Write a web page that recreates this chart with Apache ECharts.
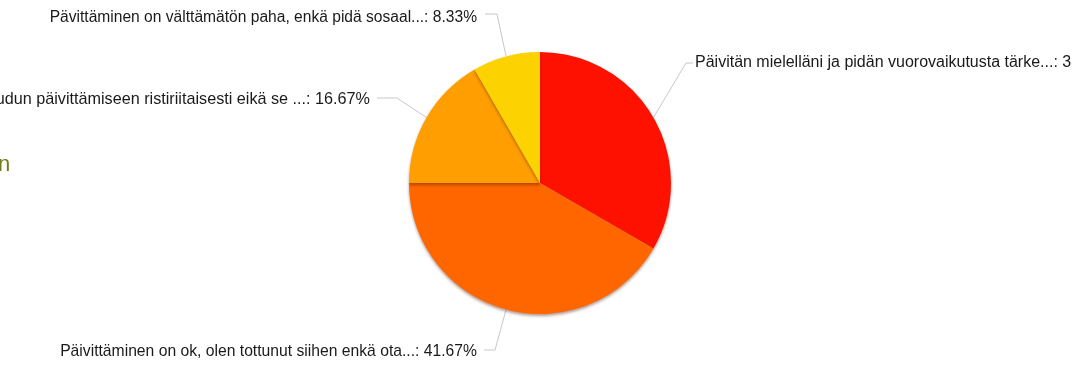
<!DOCTYPE html>
<html>
<head>
<meta charset="utf-8">
<script src="https://cdn.jsdelivr.net/npm/echarts@6/dist/echarts.min.js"></script>
<style>
html,body{margin:0;padding:0;background:#fff;}
#chart{width:1087px;height:367px;}
</style>
</head>
<body>
<div id="chart"></div>
<script>
// ---- data ----
const categories = [
  "Päivitän mielelläni ja pidän vuorovaikutusta tärke...",
  "Päivittäminen on ok, olen tottunut siihen enkä ota...",
  "Suhtaudun päivittämiseen ristiriitaisesti eikä se ...",
  "Pävittäminen on välttämätön paha, enkä pidä sosaal..."
];
const counts = [4, 5, 2, 1];
const sliceColors = ["#ff1100", "#ff6600", "#ff9e00", "#fcd200"];

// ---- label placement (layout only) ----
const labelPlacement = [
  { elbow: [686, 63], end: [693, 63], x: 695, y: 63, align: "left", size: 16 },
  { elbow: [495, 350], end: [484, 350], x: 477, y: 352, align: "right", size: 15.7 },
  { elbow: [397, 98], end: [377, 98], x: 370, y: 100, align: "right", size: 16.2 },
  { elbow: [497, 14], end: [485, 14], x: 477, y: 18, align: "right", size: 15.6 }
];

const chart = echarts.init(document.getElementById("chart"), null, { renderer: "canvas" });
chart.setOption({
  animation: false,
  backgroundColor: "#ffffff",
  graphic: [{
    type: "text",
    left: -2,
    top: 154,
    style: { text: "n", fill: "#6f7f1c", font: "22px 'Liberation Sans', Arial, sans-serif" }
  }, {
    type: "rect",
    z: 100,
    shape: { x: 1072, y: 40, width: 15, height: 50 },
    style: { fill: "#ffffff" }
  }],
  series: [{
    type: "pie",
    center: [540, 183],
    radius: 131,
    startAngle: 90,
    clockwise: true,
    avoidLabelOverlap: false,
    data: categories.map((n, i) => ({ name: n, value: counts[i], itemStyle: { color: sliceColors[i] } })),
    itemStyle: {
      borderWidth: 0,
      shadowBlur: 3,
      shadowOffsetY: 2,
      shadowColor: "rgba(90,30,0,0.45)"
    },
    label: {
      show: true,
      formatter: "{b}: {d}%",
      color: "#1a1a1a",
      fontFamily: "'Liberation Sans', Arial, sans-serif",
      fontSize: 15.6
    },
    labelLine: {
      show: true,
      length: 10,
      length2: 10,
      lineStyle: { color: "#c8c8c8", width: 1 }
    },
    labelLayout: function (params) {
      const p = labelPlacement[params.dataIndex];
      const start = params.labelLinePoints ? params.labelLinePoints[0] : p.elbow;
      return {
        x: p.x,
        y: p.y,
        align: p.align,
        verticalAlign: "middle",
        fontSize: p.size,
        labelLinePoints: [start, p.elbow, p.end]
      };
    },
    emphasis: { disabled: true }
  }]
});
</script>
</body>
</html>
